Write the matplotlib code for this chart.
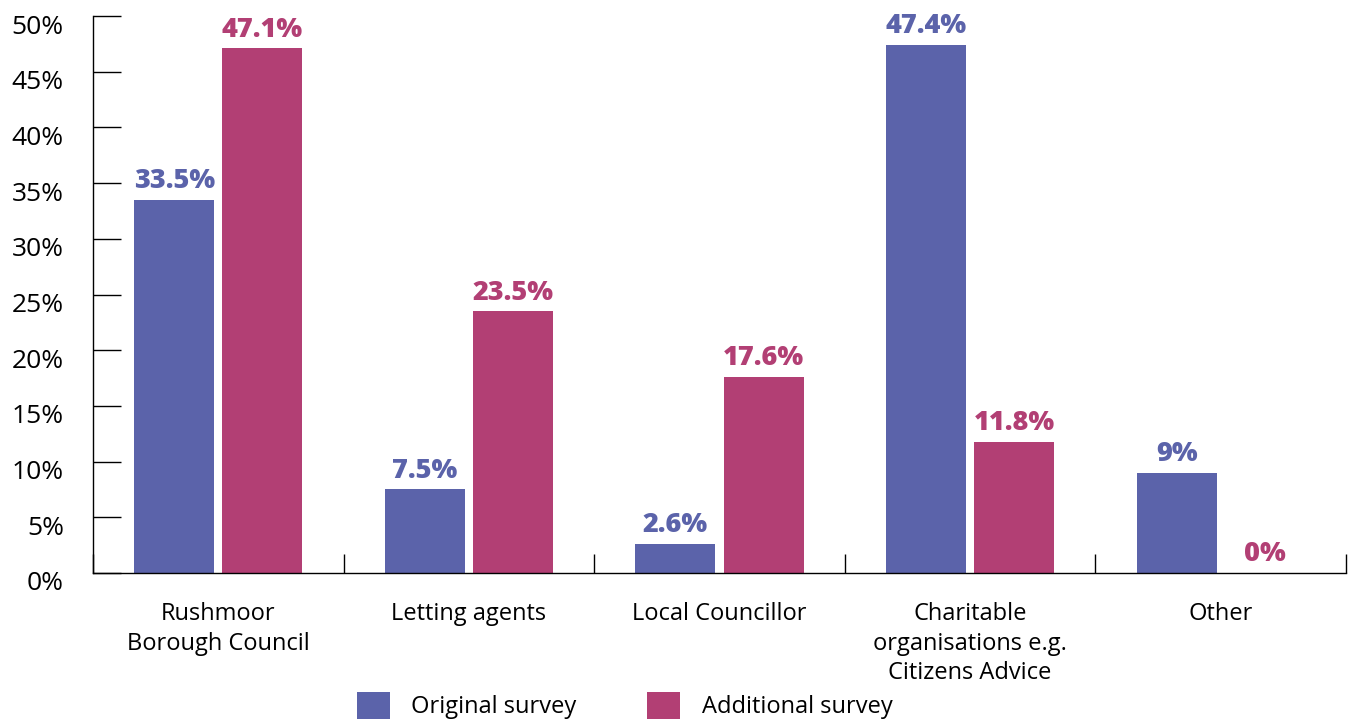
import numpy as np
import matplotlib.pyplot as plt
import matplotlib.transforms as mtransforms
from matplotlib.ticker import FixedLocator

# data
categories = ['Rushmoor\nBorough Council', 'Letting agents', 'Local Councillor',
              'Charitable\norganisations e.g.\nCitizens Advice', 'Other']
original = [33.5, 7.5, 2.6, 47.4, 9]
additional = [47.1, 23.5, 17.6, 11.8, 0]
orig_labels = ['33.5%', '7.5%', '2.6%', '47.4%', '9%']
add_labels = ['47.1%', '23.5%', '17.6%', '11.8%', '0%']
yticks = list(range(0, 55, 5))

blue = '#5b63aa'
red = '#b23f74'

plt.rcParams['font.family'] = ['Open Sans', 'DejaVu Sans']

fig = plt.figure(figsize=(13.55, 7.2), dpi=100)
ax = fig.add_axes([93/1355, 1-573/720, 1253/1355, 557/720])

x = np.arange(len(categories))
w = 0.319
off = 0.176
b1 = ax.bar(x - off, original, w, color=blue, label='Original survey')
b2 = ax.bar(x + off, additional, w, color=red, label='Additional survey')

for bars, labs, col in [(b1, orig_labels, blue), (b2, add_labels, red)]:
    for b, t in zip(bars, labs):
        ax.annotate(t, (b.get_x() + b.get_width()/2, b.get_height()),
                    xytext=(0, 4), textcoords='offset points', ha='center', va='bottom',
                    fontsize=19.5, fontweight='heavy', color=col)

ax.set_xlim(-0.5, 4.5)
ax.set_ylim(0, 50)
ax.set_yticks(yticks)
ax.set_yticklabels([f'{v}%' for v in yticks])
ax.tick_params(axis='y', direction='in', length=20, width=1, labelsize=19, pad=21)
# labels sit a little below their ticks in the original
shift = mtransforms.ScaledTranslation(0, -8/100, fig.dpi_scale_trans)
for lab in ax.get_yticklabels():
    lab.set_transform(lab.get_transform() + shift)

ax.set_xticks(x)
ax.set_xticklabels(categories, fontsize=17, linespacing=1.3)
ax.xaxis.set_minor_locator(FixedLocator(np.arange(-0.5, 5, 1)))
ax.tick_params(axis='x', which='major', length=0, pad=21)
ax.tick_params(axis='x', which='minor', direction='in', length=14, width=1)

for s in ['top', 'right']:
    ax.spines[s].set_visible(False)
for s in ['left', 'bottom']:
    ax.spines[s].set_linewidth(1)

fig.legend(loc='upper left', bbox_to_anchor=(357/1355, 1-692/720), ncol=2, frameon=False,
           fontsize=17, handlelength=1.4, handleheight=1.4, handletextpad=0.9,
           columnspacing=3.0, borderpad=0, borderaxespad=0)

fig.savefig('out.png', dpi=100)
